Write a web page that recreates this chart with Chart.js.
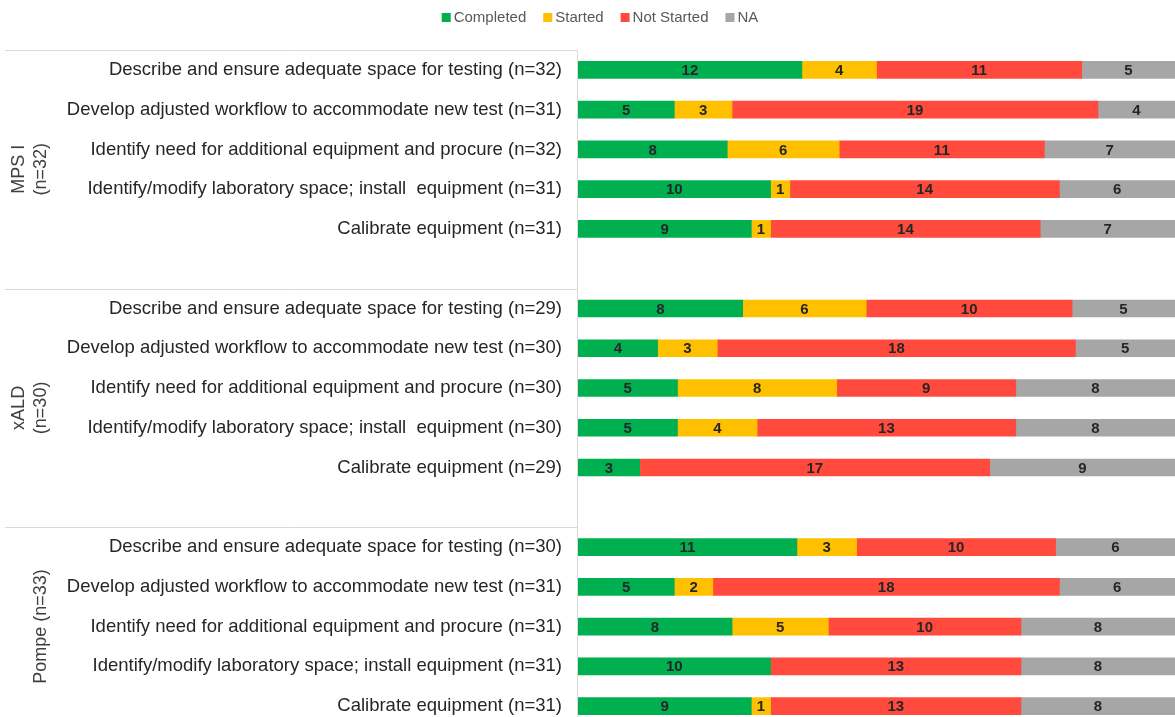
<!DOCTYPE html>
<html>
<head>
<meta charset="utf-8">
<script src="https://cdn.jsdelivr.net/npm/chart.js@4.4.1/dist/chart.umd.min.js"></script>
<style>
  html, body { margin: 0; padding: 0; background: #fff; overflow: hidden; }
  canvas { display: block; }
</style>
</head>
<body>
<canvas id="c" width="1175" height="728"></canvas>
<script>
// ---- data ----
const categories = [
  "Describe and ensure adequate space for testing (n=32)",
  "Develop adjusted workflow to accommodate new test (n=31)",
  "Identify need for additional equipment and procure (n=32)",
  "Identify/modify laboratory space; install  equipment (n=31)",
  "Calibrate equipment (n=31)",
  "",
  "Describe and ensure adequate space for testing (n=29)",
  "Develop adjusted workflow to accommodate new test (n=30)",
  "Identify need for additional equipment and procure (n=30)",
  "Identify/modify laboratory space; install  equipment (n=30)",
  "Calibrate equipment (n=29)",
  "",
  "Describe and ensure adequate space for testing (n=30)",
  "Develop adjusted workflow to accommodate new test (n=31)",
  "Identify need for additional equipment and procure (n=31)",
  "Identify/modify laboratory space; install equipment (n=31)",
  "Calibrate equipment (n=31)"
];
const completed  = [12, 5, 8, 10, 9, null, 8, 4, 5, 5, 3, null, 11, 5, 8, 10, 9];
const started    = [4, 3, 6, 1, 1, null, 6, 3, 8, 4, 0, null, 3, 2, 5, 0, 1];
const notStarted = [11, 19, 11, 14, 14, null, 10, 18, 9, 13, 17, null, 10, 18, 10, 13, 13];
const na         = [5, 4, 7, 6, 7, null, 5, 5, 8, 8, 9, null, 6, 6, 8, 8, 8];
const seriesNames = ["Completed", "Started", "Not Started", "NA"];
const seriesColors = ["#00B050", "#FFC000", "#FF4A3D", "#A6A6A6"];
const groupLabels = [["MPS I", "(n=32)"], ["xALD", "(n=30)"], ["Pompe (n=33)"]];
const groupStarts = [0, 6, 12];

// ---- build ----
const rawSeries = [completed, started, notStarted, na];
const totals = categories.map((_, i) => rawSeries.reduce((s, a) => s + (a[i] || 0), 0));
const datasets = rawSeries.map((arr, k) => ({
  label: seriesNames[k],
  data: arr.map((v, i) => v == null || totals[i] === 0 ? null : v / totals[i] * 100),
  raw: arr,
  backgroundColor: seriesColors[k],
  borderWidth: 0,
  barThickness: 17
}));

const FONT = "'Liberation Sans', Arial, sans-serif";

const decorPlugin = {
  id: 'decor',
  afterDraw(chart) {
    const ctx = chart.ctx;
    const y = chart.scales.y;
    const area = chart.chartArea;
    ctx.save();
    // separator lines
    ctx.strokeStyle = '#D9D9D9';
    ctx.lineWidth = 1;
    groupStarts.forEach(s => {
      const py = Math.round(y.getPixelForValue(s - 0.5)) + 0.5;
      ctx.beginPath(); ctx.moveTo(5, py); ctx.lineTo(area.left, py); ctx.stroke();
    });
    ctx.beginPath();
    ctx.moveTo(area.left - 0.5, Math.round(y.getPixelForValue(-0.5)));
    ctx.lineTo(area.left - 0.5, area.bottom + 5);
    ctx.stroke();

    // group labels
    ctx.fillStyle = '#404040';
    ctx.font = "18px " + FONT;
    ctx.textAlign = 'center';
    ctx.textBaseline = 'middle';
    groupLabels.forEach((lines, g) => {
      const top = y.getPixelForValue(groupStarts[g] - 0.5);
      const bottom = g < 2 ? y.getPixelForValue(groupStarts[g + 1] - 0.5) : area.bottom;
      const cy = (top + bottom) / 2;
      const xs = lines.length === 2 ? [19, 41] : [41];
      lines.forEach((t, j) => {
        ctx.save();
        ctx.translate(xs[j], cy);
        ctx.rotate(-Math.PI / 2);
        ctx.fillText(t, 0, 0);
        ctx.restore();
      });
    });

    // data labels
    ctx.fillStyle = '#262626';
    ctx.font = "bold 15px 'Liberation Sans Narrow', 'Liberation Sans', Arial, sans-serif";
    chart.data.datasets.forEach((ds, di) => {
      const meta = chart.getDatasetMeta(di);
      meta.data.forEach((bar, i) => {
        const v = ds.raw[i];
        if (v == null || v === 0) return;
        const cx = (bar.x + bar.base) / 2;
        ctx.fillText(String(v), cx, bar.y + 1);
      });
    });

    // legend
    ctx.font = "15px " + FONT;
    ctx.textAlign = 'left';
    const box = 9, gap = 3, spacing = 17;
    const widths = seriesNames.map(n => box + gap + ctx.measureText(n).width);
    const total = widths.reduce((a, b) => a + b, 0) + spacing * (seriesNames.length - 1);
    let x = 600 - total / 2;
    const ly = 18;
    seriesNames.forEach((n, k) => {
      ctx.fillStyle = seriesColors[k];
      ctx.fillRect(x, ly - 5, box, box);
      ctx.fillStyle = '#595959';
      ctx.fillText(n, x + box + gap, ly);
      x += widths[k] + spacing;
    });
    ctx.restore();
  }
};

new Chart(document.getElementById('c'), {
  type: 'bar',
  data: { labels: categories, datasets },
  options: {
    indexAxis: 'y',
    responsive: false,
    animation: false,
    layout: { padding: { top: 50, bottom: 2, left: 0, right: 0 } },
    plugins: { legend: { display: false }, tooltip: { enabled: false } },
    scales: {
      x: { stacked: true, min: 0, max: 100, display: false },
      y: {
        stacked: true,
        grid: { display: false, drawTicks: false },
        border: { display: false },
        ticks: {
          autoSkip: false,
          padding: 16,
          color: '#262626',
          font: { family: FONT, size: 18.5 }
        },
        afterFit(scale) {
          scale.width = 578;
          scale.paddingTop = 0;
          scale.paddingBottom = 0;
        }
      }
    }
  },
  plugins: [decorPlugin]
});
</script>
</body>
</html>
